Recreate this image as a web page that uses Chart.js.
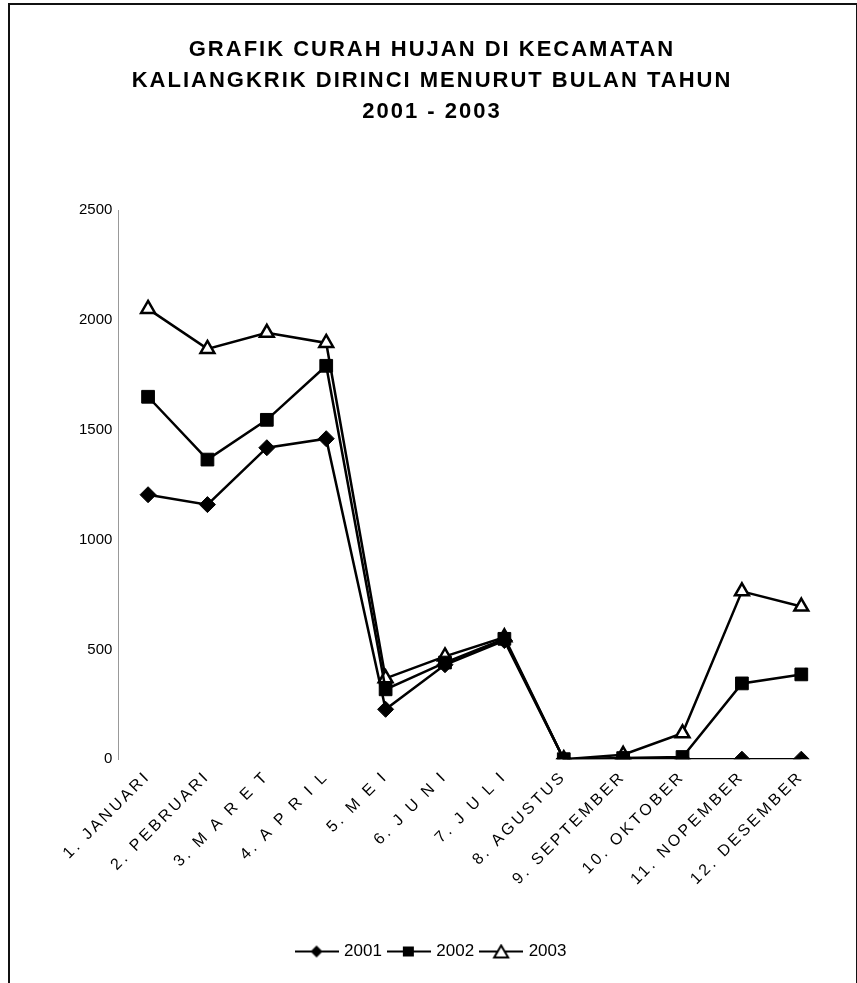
<!DOCTYPE html>
<html>
<head>
<meta charset="utf-8">
<script src="https://cdn.jsdelivr.net/npm/chart.js@4"></script>
<style>
  body { margin: 0; background: #fff; }
  #frame {
    position: absolute; left: 8px; top: 3px; width: 846px; height: 990px;
    border-left: 2px solid #111; border-top: 2px solid #111; border-right: 1px solid #111;
  }
  #wrap { position: absolute; left: 0; top: 0; width: 857px; height: 983px; }
</style>
</head>
<body>
<div id="frame"></div>
<div id="wrap"><canvas id="myChart" width="857" height="983"></canvas></div>
<script>
// data
const months = ['1. JANUARI', '2. PEBRUARI', '3. M A R E T', '4. A P R I L', '5. M E I', '6. J U N I',
  '7. J U L I', '8. AGUSTUS', '9. SEPTEMBER', '10. OKTOBER', '11. NOPEMBER', '12. DESEMBER'];
const years = ['2001', '2002', '2003'];
const rain2001 = [1204, 1159, 1418, 1459, 227, 430, 540, 0, 0, 0, 0, 0];
const rain2002 = [1650, 1364, 1545, 1791, 318, 440, 548, 0, 5, 10, 345, 386];
const rain2003 = [2050, 1868, 1941, 1895, 368, 468, 555, 0, 20, 118, 764, 695];
const yTicks = [0, 500, 1000, 1500, 2000, 2500];

// wider letter spacing for the month labels and the title, like the scan
function withSpacing(fn, spacing) {
    return function () {
        var c = this.ctx;
        c.save();
        c.letterSpacing = spacing;
        var r = fn.apply(this, arguments);
        c.restore();
        return r;
    };
}
var Cat = Chart.registry.getScale('category');
Cat.prototype._computeLabelSizes = withSpacing(Cat.prototype._computeLabelSizes, '3px');
Cat.prototype.drawLabels = withSpacing(Cat.prototype.drawLabels, '3px');
var TitleEl = Chart.registry.getPlugin('title')._element;
TitleEl.prototype.draw = withSpacing(TitleEl.prototype.draw, '2px');

document.addEventListener('DOMContentLoaded', function () {
    // legend icon: short line with the marker in the middle
    function legendIcon(kind) {
        var c = document.createElement('canvas');
        c.width = 44; c.height = 16;
        var g = c.getContext('2d');
        g.strokeStyle = '#000'; g.lineWidth = 2;
        g.beginPath(); g.moveTo(0, 8); g.lineTo(44, 8); g.stroke();
        g.fillStyle = '#000';
        if (kind === 'diamond') {
            g.beginPath(); g.moveTo(22, 2); g.lineTo(28, 8); g.lineTo(22, 14); g.lineTo(16, 8); g.closePath(); g.fill();
        } else if (kind === 'square') {
            g.fillRect(16, 3, 11, 10);
        } else {
            g.fillStyle = '#fff';
            g.beginPath(); g.moveTo(22, 2); g.lineTo(29, 14); g.lineTo(15, 14); g.closePath(); g.fill(); g.stroke();
        }
        return c;
    }
    var icons = [legendIcon('diamond'), legendIcon('square'), legendIcon('triangle')];

    var ctx = document.getElementById('myChart').getContext('2d');
    new Chart(ctx, {
        type: 'line',
        data: {
            labels: months,
            datasets: [{
                label: years[0], data: rain2001,
                borderColor: '#000', backgroundColor: '#000', borderWidth: 2.5,
                pointStyle: 'rectRot', pointRadius: 8, pointBorderWidth: 1
            }, {
                label: years[1], data: rain2002,
                borderColor: '#000', backgroundColor: '#000', borderWidth: 2.5,
                pointStyle: 'rect', pointRadius: 9, pointBorderWidth: 1
            }, {
                label: years[2], data: rain2003,
                borderColor: '#000', backgroundColor: '#fff', borderWidth: 2.5,
                pointStyle: 'triangle', pointRadius: 8, pointBorderWidth: 2.5
            }]
        },
        options: {
            responsive: false,
            animation: false,
            layout: { padding: { top: 34, left: 33, right: 26, bottom: 13 } },
            plugins: {
                title: {
                    display: true,
                    text: ['GRAFIK CURAH HUJAN DI KECAMATAN', 'KALIANGKRIK DIRINCI MENURUT BULAN TAHUN', '2001 - 2003'],
                    color: '#000',
                    font: { family: 'Liberation Sans', size: 22, weight: 'bold', lineHeight: 1.41 },
                    padding: { top: 0, bottom: 83 }
                },
                legend: {
                    position: 'bottom',
                    labels: {
                        color: '#000',
                        font: { family: 'Liberation Sans', size: 17 },
                        usePointStyle: true,
                        pointStyleWidth: 38,
                        padding: 8,
                        generateLabels: function (chart) {
                            return chart.data.datasets.map(function (ds, i) {
                                return { text: ds.label, pointStyle: icons[i], datasetIndex: i,
                                    fillStyle: '#000', strokeStyle: '#000', lineWidth: 0, fontColor: '#000' };
                            });
                        }
                    }
                },
                tooltip: { enabled: false }
            },
            scales: {
                x: {
                    offset: true,
                    grid: { display: false, drawTicks: false },
                    border: { display: false },
                    afterFit: function (axis) { axis.height += 38; },
                    ticks: {
                        color: '#000', autoSkip: false, maxRotation: 45, minRotation: 45,
                        padding: 8,
                        font: { family: 'Liberation Sans', size: 16 }
                    }
                },
                y: {
                    min: 0, max: 2500,
                    afterBuildTicks: function (axis) {
                        axis.ticks = yTicks.map(function (v) { return { value: v }; });
                    },
                    afterFit: function (axis) { axis.width += 43; },
                    grid: { display: false, drawTicks: true, tickLength: 3, color: '#000' },
                    border: { display: true, color: '#999', width: 1, dash: [6, 4] },
                    ticks: {
                        color: '#000', padding: 3,
                        font: { family: 'Liberation Sans', size: 15 },
                        callback: function (v) { return String(v); }
                    }
                }
            }
        }
    });
});
</script>
</body>
</html>
